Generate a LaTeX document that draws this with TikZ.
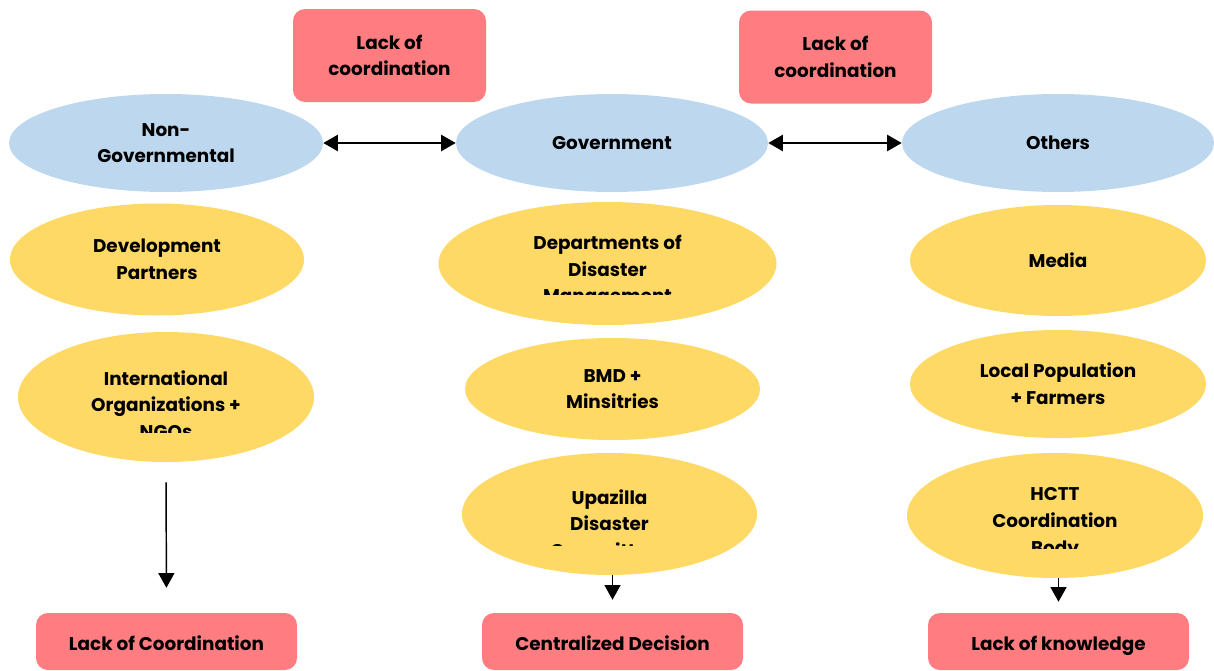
\documentclass[tikz,border=0pt]{standalone}
\usepackage{fontspec}
\setmainfont{Poppins}
\usetikzlibrary{shapes.geometric,arrows.meta}
\definecolor{boxred}{HTML}{FF7C80}
\definecolor{ellblue}{HTML}{BDD7EE}
\definecolor{ellyellow}{HTML}{FFD966}
\tikzset{
  lbl/.style={align=center, font=\fontsize{13.8}{20}\selectfont\bfseries, text=black, inner sep=0pt},
  oval/.style 2 args={ellipse, inner sep=0pt, minimum width=#1*1.5pt, minimum height=#2*1.5pt},
  sector/.style 2 args={oval={#1}{#2}, fill=ellblue, lbl},
  actor/.style 2 args={oval={#1}{#2}, fill=ellyellow, lbl},
  issue/.style 2 args={rectangle, rounded corners=9pt, fill=boxred, lbl,
    minimum width=#1*0.75pt, minimum height=#2*0.75pt},
  outcome/.style={issue={261}{57}, text height=15pt, text depth=1.5pt},
  link/.style={line width=2pt, {Triangle[length=11pt,width=12pt]}-{Triangle[length=11pt,width=12pt]}},
  flow/.style={line width=1.1pt, -{Triangle[length=11pt,width=12pt]}}
}
\begin{document}
\begin{tikzpicture}[x=0.75pt,y=-0.75pt]
\useasboundingbox (0,0) rectangle (1214,671);

% coordination problems between the sectors
\node[issue={193}{93}] (gap1) at (389.5,55.5) {Lack of\\coordination};
\node[issue={193}{93}] (gap2) at (835.5,57) {Lack of\\coordination};

% sector headings
\node[sector={157}{49}] (ngo) at (166,143) {Non-\\Governmental};
\node[sector={156}{49}] (gov) at (612,143) {Government};
\node[sector={156}{49}] (oth) at (1058,143) {Others};

\draw[link] (ngo.east) -- (gov.west);
\draw[link] (gov.east) -- (oth.west);

% actors of each sector
\node[actor={147}{56}] (dev) at (157,259.5) {Development\\Partners};
\node[actor={148}{65}] (intl) at (166,397) {};
\node[actor={169}{61.5}] (ddm) at (607.5,263.5) {};
\node[actor={147.5}{51}] (bmd) at (612.5,389) {BMD +\\Minsitries};
\node[actor={147.5}{61}] (upz) at (609.5,514) {};
\node[actor={148}{55.5}] (media) at (1058,260.5) {Media};
\node[actor={148}{54}] (local) at (1058,384) {Local Population\\+ Farmers};
\node[actor={148}{62.5}] (hctt) at (1055,515.5) {};

% labels cut off by the text area of their shapes
\begin{scope}
  \clip (0,320) rectangle (330,432);
  \node[lbl] (intltext) at (166,404.5) {International\\Organizations +\\NGOs};
\end{scope}
\begin{scope}
  \clip (430,200) rectangle (790,294);
  \node[lbl] (ddmtext) at (607.5,271.5) {Departments of\\Disaster\\Management};
\end{scope}
\begin{scope}
  \clip (450,450) rectangle (770,545);
  \node[lbl] (upztext) at (609.5,523.5) {Upazilla\\Disaster\\Committees};
\end{scope}
\begin{scope}
  \clip (900,450) rectangle (1214,548);
  \node[lbl] (hctttext) at (1055,523.5) {HCTT\\Coordination\\Body};
\end{scope}

% outcomes
\node[outcome] (out1) at (166.5,641.5) {Lack of Coordination};
\node[outcome] (out2) at (612.5,641.5) {Centralized Decision};
\node[outcome] (out3) at (1058.5,641.5) {Lack of knowledge};

\draw[flow, shorten <=15pt, shorten >=18.75pt] (intl.south) -- (out1.north);
\draw[flow, shorten >=9.75pt] (out2.north |- upz.south) -- (out2.north);
\draw[flow, shorten >=8.25pt] (out3.north |- hctt.south) -- (out3.north);
\end{tikzpicture}
\end{document}
